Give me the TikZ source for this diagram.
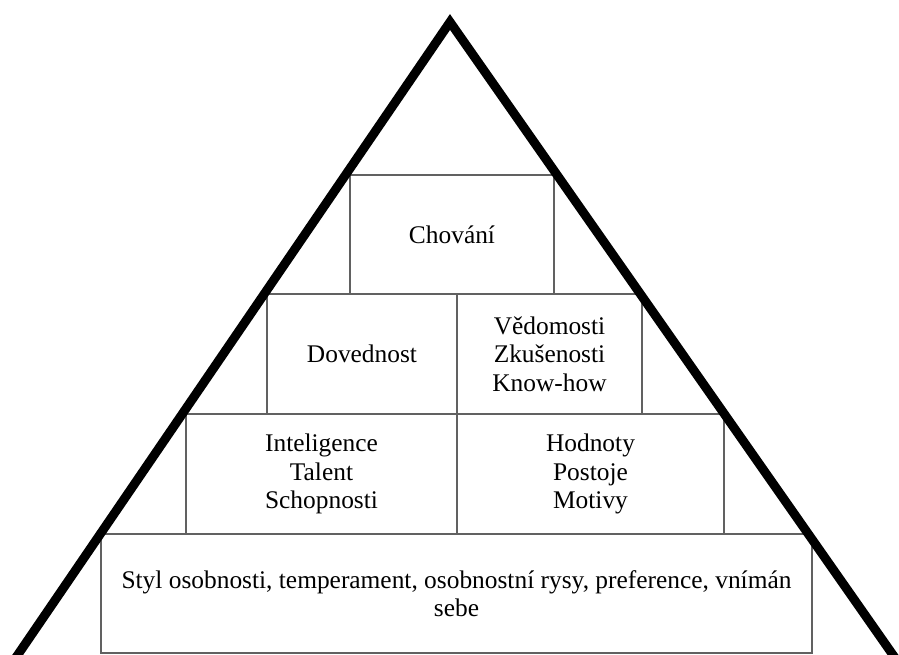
\documentclass[tikz,border=0pt]{standalone}
\usepackage{fontspec}
\setmainfont{Liberation Serif}

\begin{document}
\begin{tikzpicture}[x=1pt,y=-1pt,
  level box/.style={draw=black!62,line width=1.5pt,inner sep=0pt,align=center,
    font=\fontsize{25.4}{28.5}\selectfont}]
  \useasboundingbox (0,0) rectangle (899,655);
  \clip (0,0) rectangle (899,655);
  % levels, top to bottom
  \node[level box,minimum width=204,minimum height=119] (chovani) at (452,234.5) {Chování};
  \node[level box,minimum width=190,minimum height=120] (dovednost) at (362,354) {Dovednost};
  \node[level box,minimum width=185,minimum height=120] (vedomosti) at (549.5,354) {Vědomosti\\Zkušenosti\\Know-how};
  \node[level box,minimum width=271,minimum height=120] (inteligence) at (321.5,474) {Inteligence\\Talent\\Schopnosti};
  \node[level box,minimum width=267,minimum height=120] (hodnoty) at (590.5,474) {Hodnoty\\Postoje\\Motivy};
  \node[level box,minimum width=711,minimum height=119] (styl) at (456.5,593.5)
    {Styl osobnosti, temperament, osobnostní rysy, preference, vnímán\\sebe};
  % pyramid outline
  \coordinate (top) at (450,22);
  \coordinate (left) at (4,675);
  \coordinate (right) at (907,675);
  \draw[line width=9pt,line join=miter] (left) -- (top) -- (right);
\end{tikzpicture}
\end{document}
